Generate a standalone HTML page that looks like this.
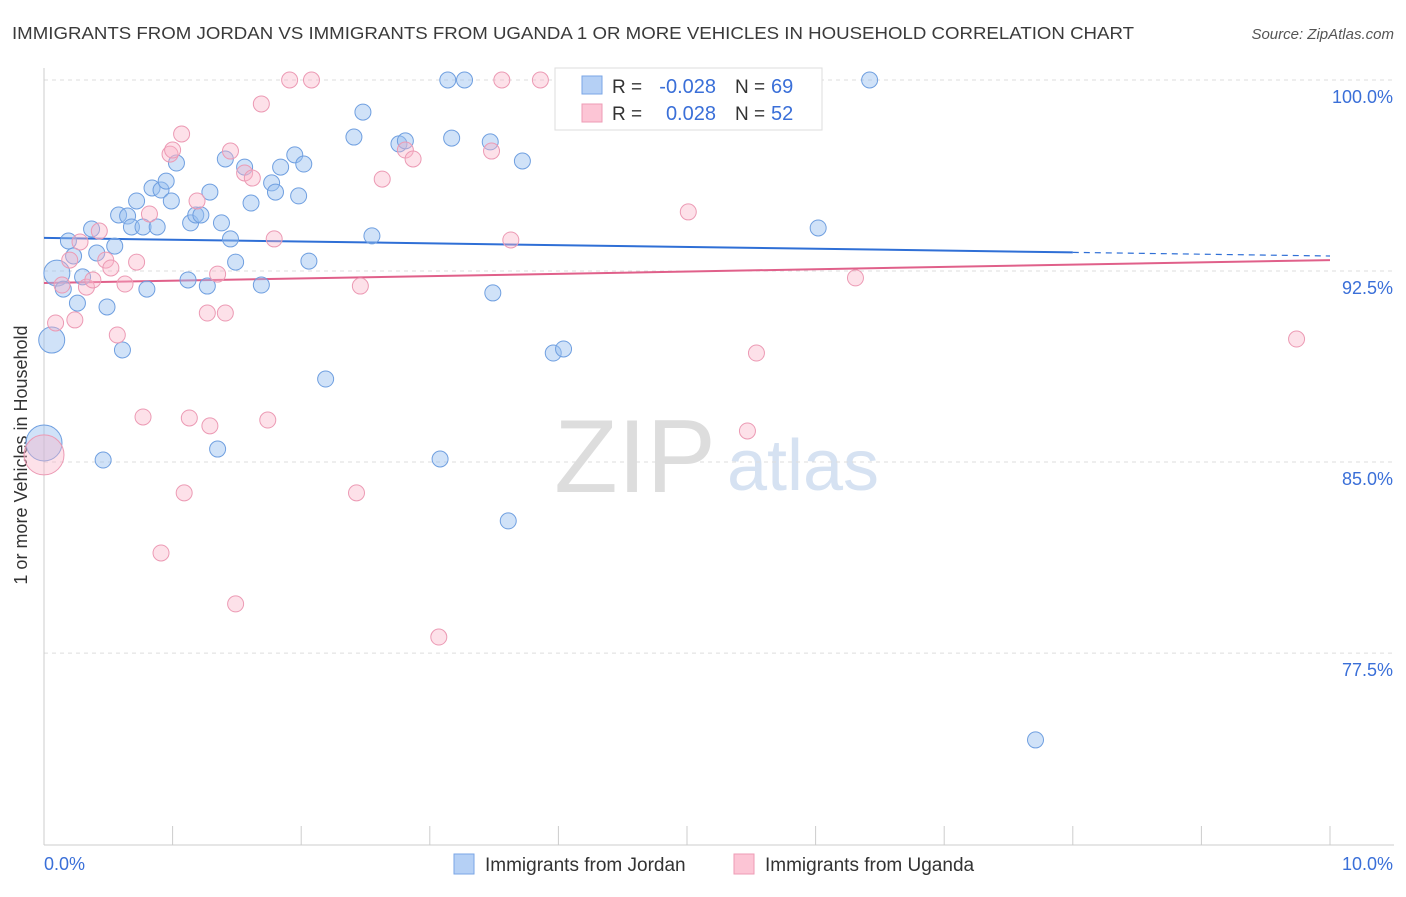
<!DOCTYPE html>
<html><head><meta charset="utf-8"><style>
body{margin:0;background:#fff;font-family:"Liberation Sans",sans-serif;}
svg text{font-family:"Liberation Sans",sans-serif;}
</style></head><body>
<svg id="chart" width="1406" height="892">
<text x="12" y="39" font-size="17.5" fill="#3a3a3a" textLength="1122" lengthAdjust="spacingAndGlyphs">IMMIGRANTS FROM JORDAN VS IMMIGRANTS FROM UGANDA 1 OR MORE VEHICLES IN HOUSEHOLD CORRELATION CHART</text>
<text x="1394" y="39" font-size="15" fill="#555" font-style="italic" text-anchor="end">Source: ZipAtlas.com</text>
<text x="27" y="455" font-size="18" fill="#333" text-anchor="middle" transform="rotate(-90 27 455)">1 or more Vehicles in Household</text>
<g><text x="635" y="492" font-size="104" fill="#ddd" font-family="Liberation Serif" text-anchor="middle">ZIP</text><text x="803" y="490" font-size="72" fill="#d6e2f2" text-anchor="middle">atlas</text></g>
<g id="grid"></g><g id="axes"></g><g id="trends"></g><g id="pts"></g>
<g>
<rect x="555" y="68" width="267" height="62" fill="#fff" stroke="#ddd"/>
<rect x="582" y="76" width="20" height="18" fill="#b5d0f5" stroke="#7aa6e6"/>
<rect x="582" y="104" width="20" height="18" fill="#fcc5d5" stroke="#ee9bb5"/>
<text x="612" y="93" font-size="19" fill="#333">R =</text>
<text x="716" y="93" font-size="20" fill="#3a6fd8" text-anchor="end">-0.028</text>
<text x="735" y="93" font-size="19" fill="#333">N =</text>
<text x="771" y="93" font-size="20" fill="#3a6fd8">69</text>
<text x="612" y="120" font-size="19" fill="#333">R =</text>
<text x="716" y="120" font-size="20" fill="#3a6fd8" text-anchor="end">0.028</text>
<text x="735" y="120" font-size="19" fill="#333">N =</text>
<text x="771" y="120" font-size="20" fill="#3a6fd8">52</text>
</g>
<g>
<rect x="454" y="854" width="20" height="20" fill="#b5d0f5" stroke="#7aa6e6"/>
<text x="485" y="871" font-size="19" fill="#333">Immigrants from Jordan</text>
<rect x="734" y="854" width="20" height="20" fill="#fcc5d5" stroke="#ee9bb5"/>
<text x="765" y="871" font-size="19" fill="#333">Immigrants from Uganda</text>
</g>
</svg>
<script>
const yTicks=[100,92.5,85,77.5];
const yTickLabels=["100.0%","92.5%","85.0%","77.5%"];
const xTickLabels=["0.0%","10.0%"];
const jordanX=[0.10,0.06,0.0,0.15,0.19,0.23,0.26,0.30,0.37,0.41,0.46,0.49,0.55,0.58,0.61,0.65,0.68,0.72,0.77,0.80,0.84,0.88,0.91,0.95,0.99,1.03,1.12,1.14,1.18,1.22,1.27,1.29,1.35,1.38,1.41,1.45,1.49,1.56,1.61,1.69,1.77,1.80,1.84,1.95,1.98,2.02,2.06,2.19,2.41,2.48,2.55,2.76,2.81,3.08,3.14,3.17,3.27,3.47,3.49,3.61,3.72,3.96,4.04,4.32,4.58,6.02,6.42,7.71];
const jordanY=[92.42,89.79,85.75,91.79,93.68,93.09,91.24,92.27,94.15,93.21,85.08,91.09,93.48,94.70,89.40,94.66,94.23,95.25,94.23,91.79,95.76,94.23,95.68,96.03,95.25,96.74,92.15,94.39,94.70,94.70,91.91,95.60,85.51,94.39,96.90,93.76,92.85,96.58,95.17,91.95,95.96,95.60,96.58,97.06,95.45,96.70,92.89,88.26,97.76,98.74,93.88,97.49,97.61,85.12,100,97.72,100,97.57,91.64,82.69,96.82,89.28,89.44,100,100,94.19,100,74.09];
const ugandaX=[0,0.09,0.14,0.20,0.24,0.28,0.33,0.38,0.43,0.48,0.52,0.57,0.63,0.72,0.77,0.82,0.91,0.98,1.00,1.07,1.09,1.13,1.19,1.27,1.29,1.35,1.41,1.45,1.49,1.56,1.62,1.69,1.74,1.79,1.91,2.08,2.43,2.46,2.63,2.81,2.87,3.07,3.48,3.56,3.63,3.86,5.01,5.47,5.54,6.31,9.74];
const ugandaY=[85.28,90.46,91.95,92.93,90.58,93.64,91.87,92.15,94.07,92.93,92.62,89.99,91.99,92.85,86.77,94.74,81.43,97.09,97.25,97.88,83.79,86.73,95.25,90.85,86.42,92.38,90.85,97.21,79.43,96.35,96.15,99.06,86.65,93.76,100,100,83.79,91.91,96.11,97.25,96.90,78.13,97.21,100,93.72,100,94.82,86.22,89.28,92.23,89.83];
const jordanSize=[13,13,18];
const ugandaSize=[20];
const jordanTrend=[93.80,93.09];
const ugandaTrend=[92.03,92.93];
const NS="http://www.w3.org/2000/svg";
const X=v=>44+v*128.6, Y=v=>80+(100-v)*25.47;
function mk(t,a,p){const e=document.createElementNS(NS,t);for(const k in a)e.setAttribute(k,a[k]);p.appendChild(e);return e;}
const grid=document.getElementById('grid'),axes=document.getElementById('axes');
yTicks.forEach((t,i)=>{
 const l=mk('line',{x1:44,x2:1394,y1:Y(t),y2:Y(t),stroke:'#ddd','stroke-dasharray':'4,4'},grid);
 
 
 const tx=mk('text',{x:1393,y:Y(t)+23,'font-size':18,fill:'#3a6fd8','text-anchor':'end'},axes);
 tx.textContent=yTickLabels[i];
 
 
});
const xa=mk('line',{x1:44,x2:1394,y1:845,y2:845,stroke:'#ccc'},axes);


const ya=mk('line',{x1:44,x2:44,y1:68,y2:845,stroke:'#ccc'},axes);


for(let i=0;i<=10;i++){const t=mk('line',{x1:X(i),x2:X(i),y1:826,y2:845,stroke:'#ccc'},axes);
 
 }
xTickLabels.forEach((s,i)=>{const t=mk('text',{x:i?1393:44,y:870,'font-size':18,fill:'#3a6fd8','text-anchor':i?'end':'start'},axes);t.textContent=s;
 
 });
const tr=document.getElementById('trends');
let l1=mk('line',{x1:X(0),y1:Y(jordanTrend[0]),x2:X(8),y2:Y(jordanTrend[0]+(jordanTrend[1]-jordanTrend[0])*0.8),stroke:'#2f6fd6','stroke-width':2},tr);


let l2=mk('line',{x1:X(8),y1:Y(jordanTrend[0]+(jordanTrend[1]-jordanTrend[0])*0.8),x2:X(10),y2:Y(jordanTrend[1]),stroke:'#2f6fd6','stroke-width':1.2,'stroke-dasharray':'6,5'},tr);


let l3=mk('line',{x1:X(0),y1:Y(ugandaTrend[0]),x2:X(10),y2:Y(ugandaTrend[1]),stroke:'#e0608a','stroke-width':2},tr);


const pts=document.getElementById('pts');
jordanX.forEach((x,i)=>{const c=mk('circle',{cx:X(x),cy:Y(jordanY[i]),r:jordanSize[i]||8,fill:'rgba(150,190,240,0.45)',stroke:'#6f9fe0','stroke-width':1},pts);
 
 });
ugandaX.forEach((x,i)=>{const c=mk('circle',{cx:X(x),cy:Y(ugandaY[i]),r:ugandaSize[i]||8,fill:'rgba(250,180,200,0.4)',stroke:'#ec9ab4','stroke-width':1},pts);
 
 });
</script>
</body></html>
